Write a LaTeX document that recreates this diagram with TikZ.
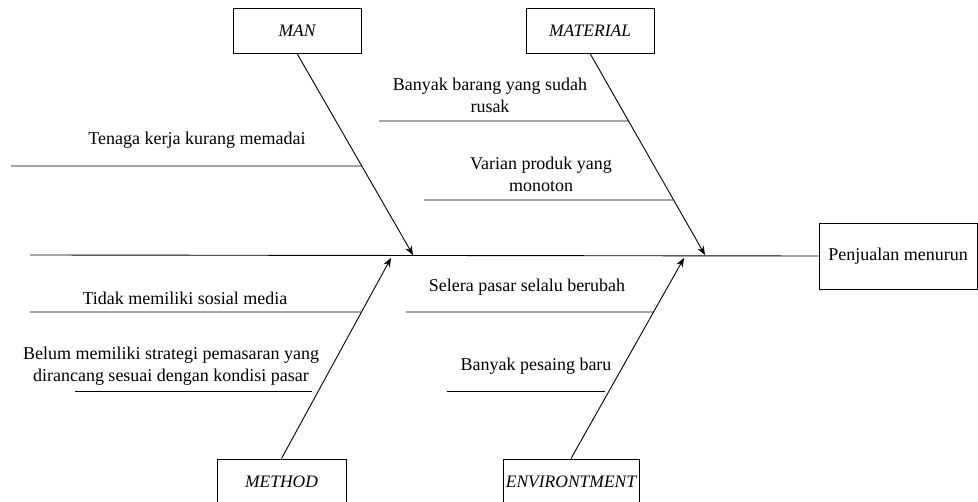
\documentclass[tikz,border=0pt]{standalone}
\usepackage{fontspec}
\setmainfont{Liberation Serif}
\usetikzlibrary{arrows.meta,calc}
\begin{document}
\begin{tikzpicture}[x=1pt,y=-1pt,>={Stealth[length=9pt,width=7pt]},line width=0.9pt,
	cat/.style={draw,minimum width=128pt,minimum height=45pt,inner xsep=0pt,font=\fontsize{17.5}{22}\selectfont\itshape},
	effect/.style={draw,minimum width=158pt,minimum height=66pt,font=\fontsize{18}{22}\selectfont},
	cause/.style={align=center,font=\fontsize{18}{22}\selectfont}]
	\useasboundingbox (0,0) rectangle (978,502);
	% kategori
	\node[cat] (man) at (297,30.5) {MAN};
	\node[cat] (material) at (590,30.5) {MATERIAL};
	\node[cat,minimum width=129pt] (method) at (281.5,481.5) {METHOD};
	\node[cat,minimum width=136pt] (env) at (571,481.5) {ENVIRONTMENT};
	\node[effect] (effect) at (898,256) {Penjualan menurun};
	% tulang utama
	\coordinate (tail) at (30,255);
	\draw (tail) -- (effect.west);
	\coordinate (manTip) at (413,255);
	\coordinate (materialTip) at (705,255);
	\coordinate (methodTip) at (391,258);
	\coordinate (envTip) at (684,258);
	\draw[->] (man.south) -- (manTip);
	\draw[->] (material.south) -- (materialTip);
	\draw[->] (method.north) -- (methodTip);
	\draw[->] (env.north) -- (envTip);
	% penyebab
	\coordinate (manA) at (11,166);
	\coordinate (manAx) at (12,166);
	\draw (manA) -- (intersection of manA--manAx and man.south--manTip);
	\node[cause] (tenaga) at (197,140) {Tenaga kerja kurang memadai};
	\coordinate (materialA) at (379,121);
	\coordinate (materialAx) at (380,121);
	\draw (materialA) -- (intersection of materialA--materialAx and material.south--materialTip);
	\node[cause] (rusak) at (490,95) {Banyak barang yang sudah\\rusak};
	\coordinate (materialB) at (424,200);
	\coordinate (materialBx) at (425,200);
	\draw (materialB) -- (intersection of materialB--materialBx and material.south--materialTip);
	\node[cause] (varian) at (541,174.5) {Varian produk yang\\monoton};
	\coordinate (methodA) at (30,312);
	\coordinate (methodAx) at (31,312);
	\draw (methodA) -- (intersection of methodA--methodAx and method.north--methodTip);
	\node[cause] (sosmed) at (185,298) {Tidak memiliki sosial media};
	\coordinate (methodB) at (75,391);
	\coordinate (methodBend) at (312,391);
	\draw (methodB) -- (methodBend);
	\node[cause] (strategi) at (171,366) {Belum memiliki strategi pemasaran yang\\dirancang sesuai dengan kondisi pasar};
	\coordinate (envA) at (406,312);
	\coordinate (envAx) at (407,312);
	\draw (envA) -- (intersection of envA--envAx and env.north--envTip);
	\node[cause] (selera) at (527,287) {Selera pasar selalu berubah};
	\coordinate (envB) at (447,391);
	\coordinate (envBend) at (605,391);
	\draw (envB) -- (envBend);
	\node[cause] (pesaing) at (536,366) {Banyak pesaing baru};
\end{tikzpicture}
\end{document}
